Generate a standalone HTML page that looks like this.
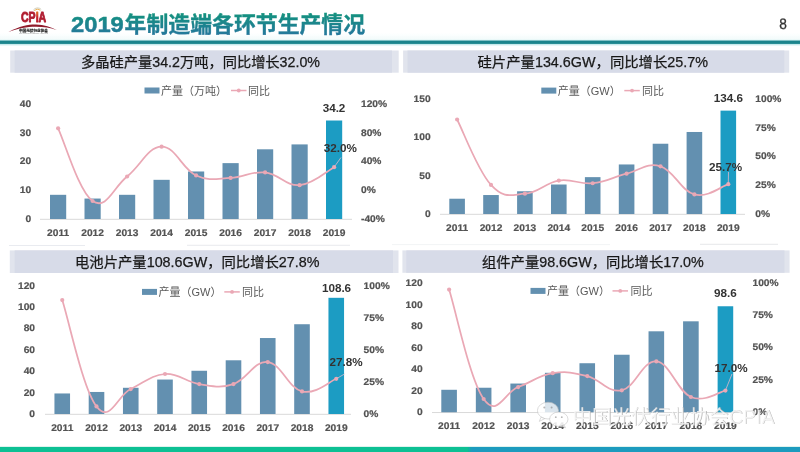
<!DOCTYPE html>
<html lang="zh-CN"><head><meta charset="utf-8"><title>2019年制造端各环节生产情况</title>
<style>html,body{margin:0;padding:0;background:#fff;}body{width:800px;height:452px;overflow:hidden;}svg{display:block;}
text{font-family:"Liberation Sans", "Noto Sans CJK SC", sans-serif;}
.ax{text-rendering:geometricPrecision;font-size:9.6px;font-weight:bold;fill:#525252;stroke:#525252;stroke-width:0.2px;}
.dl{font-size:11.7px;font-weight:bold;fill:#333;}
.lg{font-size:11px;fill:#595959;}
.tb{font-size:14px;fill:#1a1a1a;stroke:#1a1a1a;stroke-width:0.25px;}
</style></head><body>
<svg width="800" height="452" viewBox="0 0 800 452">
<defs><linearGradient id="tg" x1="0" y1="0" x2="0" y2="1"><stop offset="0.1" stop-color="#14917f"/><stop offset="0.95" stop-color="#26779d"/></linearGradient>
<linearGradient id="ig" x1="0" y1="0" x2="0" y2="1"><stop offset="0" stop-color="#f0a020"/><stop offset="0.55" stop-color="#c8202c"/><stop offset="1" stop-color="#a8192b"/></linearGradient>
<filter id="bl" x="-5%" y="-5%" width="110%" height="110%"><feGaussianBlur stdDeviation="0.45"/></filter>
<linearGradient id="hg" x1="0" y1="0" x2="0" y2="1"><stop offset="0" stop-color="#d8f3f3" stop-opacity="0"/><stop offset="1" stop-color="#d8f3f3" stop-opacity="0.35"/></linearGradient>
<linearGradient id="bg" x1="0" y1="0" x2="800" y2="0" gradientUnits="userSpaceOnUse"><stop offset="0" stop-color="#0cc094"/><stop offset="0.5845" stop-color="#0cc094"/><stop offset="0.5895" stop-color="#1c9bbe"/><stop offset="1" stop-color="#1c9bbe"/></linearGradient>
</defs>
<rect width="800" height="452" fill="#ffffff"/>
<g filter="url(#bl)">
<rect x="0" y="32.5" width="800" height="8" fill="url(#hg)"/>
<rect x="0" y="39.8" width="800" height="5.6" fill="#c9eaec"/>
<rect x="0" y="40.6" width="800" height="3.3" fill="#1b848c"/>
<g id="logo">
<path d="M8.2,32.2 C20,25.6 30,24.3 36,24.5 C44,24.8 51,26.8 57,30.2 C50,27.8 44,26.9 36,26.8 C28,26.7 18,28.2 8.2,32.2 Z" fill="#8f1a2c"/>
<text x="21" y="22.3" font-size="15" font-weight="bold" fill="#b01c30" stroke="#b01c30" stroke-width="0.9" stroke-linejoin="round" textLength="25.2" lengthAdjust="spacingAndGlyphs">CP<tspan fill="url(#ig)" stroke="url(#ig)">I</tspan>A</text>
<path d="M34.4,11 A3.6,3.6 0 0 1 40.4,10.6" fill="none" stroke="#e8a33a" stroke-width="0.9"/>
<path d="M33.4,10 A5.2,5.2 0 0 1 41.2,9.4" fill="none" stroke="#b9b9a0" stroke-width="0.7"/>
<text x="19" y="32.2" font-size="3.6" font-weight="bold" fill="#1a1a1a" stroke="#1a1a1a" stroke-width="0.15" textLength="29" lengthAdjust="spacingAndGlyphs">中国光伏行业协会</text>
<text x="19" y="34.3" font-size="1.6" fill="#888" textLength="29" lengthAdjust="spacingAndGlyphs">CHINA PHOTOVOLTAIC INDUSTRY ASSOCIATION</text>
</g>
<text x="71" y="31.7" font-size="22.8" font-weight="bold" fill="url(#tg)" stroke="url(#tg)" stroke-width="0.5" textLength="52.8" lengthAdjust="spacingAndGlyphs">2019</text>
<text x="124.6" y="31.6" font-size="22" font-weight="bold" fill="url(#tg)" stroke="url(#tg)" stroke-width="0.35" textLength="240.5" lengthAdjust="spacingAndGlyphs">年制造端各环节生产情况</text>
<text transform="translate(783.1,29) scale(0.9,1)" font-size="15.2" fill="#333" stroke="#333" stroke-width="0.3" text-anchor="middle" style="text-rendering:geometricPrecision">8</text>
<rect x="10.2" y="50.5" width="388.5" height="22.2" fill="#e1e4ed"/>
<rect x="14.6" y="50.5" width="377.4" height="22.2" fill="#d7dbe8"/>
<text x="81.00" y="66.50" class="tb" textLength="239.0" lengthAdjust="spacingAndGlyphs">多晶硅产量34.2万吨，同比增长32.0%</text>
<rect x="403.1" y="50.5" width="386.1" height="22.2" fill="#e1e4ed"/>
<rect x="407.5" y="50.5" width="376.8" height="22.2" fill="#d7dbe8"/>
<text x="477.50" y="66.50" class="tb" textLength="230.5" lengthAdjust="spacingAndGlyphs">硅片产量134.6GW，同比增长25.7%</text>
<rect x="9.8" y="250.4" width="388.7" height="22.6" fill="#e1e4ed"/>
<rect x="14.6" y="250.4" width="378.4" height="22.6" fill="#d7dbe8"/>
<text x="75.00" y="266.60" class="tb" textLength="244.5" lengthAdjust="spacingAndGlyphs">电池片产量108.6GW，同比增长27.8%</text>
<rect x="402.4" y="250.4" width="387.2" height="22.4" fill="#e1e4ed"/>
<rect x="406.3" y="250.4" width="378.2" height="22.4" fill="#d7dbe8"/>
<text x="482.00" y="266.50" class="tb" textLength="221.8" lengthAdjust="spacingAndGlyphs">组件产量98.6GW，同比增长17.0%</text>
<line x1="40.0" y1="219.30" x2="352.0" y2="219.30" stroke="#d9d9d9" stroke-width="1"/>
<rect x="50.00" y="194.81" width="16.20" height="24.19" fill="#6390b0"/>
<rect x="84.50" y="198.55" width="16.20" height="20.45" fill="#6390b0"/>
<rect x="119.00" y="194.81" width="16.20" height="24.19" fill="#6390b0"/>
<rect x="153.50" y="179.83" width="16.20" height="39.17" fill="#6390b0"/>
<rect x="188.00" y="171.48" width="16.20" height="47.52" fill="#6390b0"/>
<rect x="222.50" y="163.13" width="16.20" height="55.87" fill="#6390b0"/>
<rect x="257.00" y="149.30" width="16.20" height="69.70" fill="#6390b0"/>
<rect x="291.50" y="144.41" width="16.20" height="74.59" fill="#6390b0"/>
<rect x="326.00" y="120.50" width="16.20" height="98.50" fill="#1f9cc3"/>
<text transform="translate(31.2,222.00) scale(1.065,1)" text-anchor="end" class="ax">0</text>
<text transform="translate(31.2,193.20) scale(1.065,1)" text-anchor="end" class="ax">10</text>
<text transform="translate(31.2,164.40) scale(1.065,1)" text-anchor="end" class="ax">20</text>
<text transform="translate(31.2,135.60) scale(1.065,1)" text-anchor="end" class="ax">30</text>
<text transform="translate(31.2,106.80) scale(1.065,1)" text-anchor="end" class="ax">40</text>
<text transform="translate(361.0,222.00) scale(1.065,1)" text-anchor="start" class="ax">-40%</text>
<text transform="translate(361.0,193.20) scale(1.065,1)" text-anchor="start" class="ax">0%</text>
<text transform="translate(361.0,164.40) scale(1.065,1)" text-anchor="start" class="ax">40%</text>
<text transform="translate(361.0,135.60) scale(1.065,1)" text-anchor="start" class="ax">80%</text>
<text transform="translate(361.0,106.80) scale(1.065,1)" text-anchor="start" class="ax">120%</text>
<text transform="translate(58.10,235.90) scale(1.065,1)" text-anchor="middle" class="ax">2011</text>
<text transform="translate(92.60,235.90) scale(1.065,1)" text-anchor="middle" class="ax">2012</text>
<text transform="translate(127.10,235.90) scale(1.065,1)" text-anchor="middle" class="ax">2013</text>
<text transform="translate(161.60,235.90) scale(1.065,1)" text-anchor="middle" class="ax">2014</text>
<text transform="translate(196.10,235.90) scale(1.065,1)" text-anchor="middle" class="ax">2015</text>
<text transform="translate(230.60,235.90) scale(1.065,1)" text-anchor="middle" class="ax">2016</text>
<text transform="translate(265.10,235.90) scale(1.065,1)" text-anchor="middle" class="ax">2017</text>
<text transform="translate(299.60,235.90) scale(1.065,1)" text-anchor="middle" class="ax">2018</text>
<text transform="translate(334.10,235.90) scale(1.065,1)" text-anchor="middle" class="ax">2019</text>
<path d="M58.10,128.28 C65.00,142.82 78.80,191.35 92.60,201.00 C106.40,210.65 113.30,187.39 127.10,176.52 C140.90,165.65 147.80,146.86 161.60,146.64 C175.40,146.42 182.30,169.18 196.10,175.44 C209.90,181.70 216.80,178.56 230.60,177.96 C244.40,177.36 251.30,170.98 265.10,172.42 C278.90,173.86 285.80,186.21 299.60,185.16 C313.40,184.11 327.20,170.76 334.10,167.16" fill="none" stroke="#eaa8b5" stroke-width="1.75" stroke-linecap="round"/>
<circle cx="58.10" cy="128.28" r="2.1" fill="#eaa8b5"/>
<circle cx="92.60" cy="201.00" r="2.1" fill="#eaa8b5"/>
<circle cx="127.10" cy="176.52" r="2.1" fill="#eaa8b5"/>
<circle cx="161.60" cy="146.64" r="2.1" fill="#eaa8b5"/>
<circle cx="196.10" cy="175.44" r="2.1" fill="#eaa8b5"/>
<circle cx="230.60" cy="177.96" r="2.1" fill="#eaa8b5"/>
<circle cx="265.10" cy="172.42" r="2.1" fill="#eaa8b5"/>
<circle cx="299.60" cy="185.16" r="2.1" fill="#eaa8b5"/>
<circle cx="334.10" cy="167.16" r="2.1" fill="#eaa8b5"/>
<line x1="334.10" y1="167.16" x2="341.00" y2="157.50" stroke="#d9b9cc" stroke-width="1" opacity="0.8"/>
<text x="334.00" y="112.30" text-anchor="middle" class="dl">34.2</text>
<text x="340.30" y="152.20" text-anchor="middle" class="dl">32.0%</text>
<rect x="144.50" y="87.50" width="15" height="6" fill="#6390b0"/>
<text x="161.00" y="94.50" class="lg">产量（万吨）</text>
<line x1="231.00" y1="90.50" x2="246.50" y2="90.50" stroke="#eaa8b5" stroke-width="1.5"/>
<circle cx="238.75" cy="90.50" r="1.9" fill="#eaa8b5"/>
<text x="248.00" y="94.50" class="lg">同比</text>
<line x1="440.0" y1="214.30" x2="745.0" y2="214.30" stroke="#d9d9d9" stroke-width="1"/>
<rect x="449.30" y="198.72" width="15.60" height="15.28" fill="#6390b0"/>
<rect x="483.20" y="195.03" width="15.60" height="18.97" fill="#6390b0"/>
<rect x="517.10" y="191.27" width="15.60" height="22.73" fill="#6390b0"/>
<rect x="551.00" y="184.51" width="15.60" height="29.49" fill="#6390b0"/>
<rect x="584.90" y="177.14" width="15.60" height="36.86" fill="#6390b0"/>
<rect x="618.80" y="164.46" width="15.60" height="49.54" fill="#6390b0"/>
<rect x="652.70" y="143.73" width="15.60" height="70.27" fill="#6390b0"/>
<rect x="686.60" y="131.98" width="15.60" height="82.02" fill="#6390b0"/>
<rect x="720.50" y="110.63" width="15.60" height="103.37" fill="#1f9cc3"/>
<text transform="translate(430.6,217.00) scale(1.065,1)" text-anchor="end" class="ax">0</text>
<text transform="translate(430.6,178.60) scale(1.065,1)" text-anchor="end" class="ax">50</text>
<text transform="translate(430.6,140.20) scale(1.065,1)" text-anchor="end" class="ax">100</text>
<text transform="translate(430.6,101.80) scale(1.065,1)" text-anchor="end" class="ax">150</text>
<text transform="translate(755.3,217.00) scale(1.065,1)" text-anchor="start" class="ax">0%</text>
<text transform="translate(755.3,188.19) scale(1.065,1)" text-anchor="start" class="ax">25%</text>
<text transform="translate(755.3,159.38) scale(1.065,1)" text-anchor="start" class="ax">50%</text>
<text transform="translate(755.3,130.56) scale(1.065,1)" text-anchor="start" class="ax">75%</text>
<text transform="translate(755.3,101.75) scale(1.065,1)" text-anchor="start" class="ax">100%</text>
<text transform="translate(457.10,230.90) scale(1.065,1)" text-anchor="middle" class="ax">2011</text>
<text transform="translate(491.00,230.90) scale(1.065,1)" text-anchor="middle" class="ax">2012</text>
<text transform="translate(524.90,230.90) scale(1.065,1)" text-anchor="middle" class="ax">2013</text>
<text transform="translate(558.80,230.90) scale(1.065,1)" text-anchor="middle" class="ax">2014</text>
<text transform="translate(592.70,230.90) scale(1.065,1)" text-anchor="middle" class="ax">2015</text>
<text transform="translate(626.60,230.90) scale(1.065,1)" text-anchor="middle" class="ax">2016</text>
<text transform="translate(660.50,230.90) scale(1.065,1)" text-anchor="middle" class="ax">2017</text>
<text transform="translate(694.40,230.90) scale(1.065,1)" text-anchor="middle" class="ax">2018</text>
<text transform="translate(728.30,230.90) scale(1.065,1)" text-anchor="middle" class="ax">2019</text>
<path d="M457.10,119.49 C463.88,132.59 477.44,170.11 491.00,184.96 C504.56,199.80 511.34,194.59 524.90,193.72 C538.46,192.84 545.24,182.68 558.80,180.58 C572.36,178.48 579.14,184.61 592.70,183.23 C606.26,181.85 613.04,177.05 626.60,173.66 C640.16,170.27 646.94,162.14 660.50,166.29 C674.06,170.44 680.84,190.83 694.40,194.41 C707.96,197.98 721.52,186.20 728.30,184.15" fill="none" stroke="#eaa8b5" stroke-width="1.75" stroke-linecap="round"/>
<circle cx="457.10" cy="119.49" r="2.1" fill="#eaa8b5"/>
<circle cx="491.00" cy="184.96" r="2.1" fill="#eaa8b5"/>
<circle cx="524.90" cy="193.72" r="2.1" fill="#eaa8b5"/>
<circle cx="558.80" cy="180.58" r="2.1" fill="#eaa8b5"/>
<circle cx="592.70" cy="183.23" r="2.1" fill="#eaa8b5"/>
<circle cx="626.60" cy="173.66" r="2.1" fill="#eaa8b5"/>
<circle cx="660.50" cy="166.29" r="2.1" fill="#eaa8b5"/>
<circle cx="694.40" cy="194.41" r="2.1" fill="#eaa8b5"/>
<circle cx="728.30" cy="184.15" r="2.1" fill="#eaa8b5"/>
<line x1="728.30" y1="184.15" x2="728.50" y2="172.00" stroke="#d9b9cc" stroke-width="1" opacity="0.8"/>
<text x="728.40" y="102.40" text-anchor="middle" class="dl">134.6</text>
<text x="725.50" y="171.00" text-anchor="middle" class="dl">25.7%</text>
<rect x="541.30" y="87.60" width="15" height="6" fill="#6390b0"/>
<text x="557.80" y="94.60" class="lg">产量（GW）</text>
<line x1="624.30" y1="90.60" x2="639.80" y2="90.60" stroke="#eaa8b5" stroke-width="1.5"/>
<circle cx="632.05" cy="90.60" r="1.9" fill="#eaa8b5"/>
<text x="642.00" y="94.60" class="lg">同比</text>
<line x1="45.0" y1="414.30" x2="351.0" y2="414.30" stroke="#d9d9d9" stroke-width="1"/>
<rect x="54.45" y="393.46" width="15.60" height="20.54" fill="#6390b0"/>
<rect x="88.70" y="391.96" width="15.60" height="22.04" fill="#6390b0"/>
<rect x="122.95" y="387.79" width="15.60" height="26.21" fill="#6390b0"/>
<rect x="157.20" y="379.55" width="15.60" height="34.45" fill="#6390b0"/>
<rect x="191.45" y="370.77" width="15.60" height="43.23" fill="#6390b0"/>
<rect x="225.70" y="360.29" width="15.60" height="53.71" fill="#6390b0"/>
<rect x="259.95" y="338.03" width="15.60" height="75.97" fill="#6390b0"/>
<rect x="294.20" y="324.23" width="15.60" height="89.77" fill="#6390b0"/>
<rect x="328.45" y="297.80" width="15.60" height="116.20" fill="#1f9cc3"/>
<text transform="translate(35.0,417.00) scale(1.065,1)" text-anchor="end" class="ax">0</text>
<text transform="translate(35.0,395.60) scale(1.065,1)" text-anchor="end" class="ax">20</text>
<text transform="translate(35.0,374.20) scale(1.065,1)" text-anchor="end" class="ax">40</text>
<text transform="translate(35.0,352.80) scale(1.065,1)" text-anchor="end" class="ax">60</text>
<text transform="translate(35.0,331.40) scale(1.065,1)" text-anchor="end" class="ax">80</text>
<text transform="translate(35.0,310.00) scale(1.065,1)" text-anchor="end" class="ax">100</text>
<text transform="translate(35.0,288.60) scale(1.065,1)" text-anchor="end" class="ax">120</text>
<text transform="translate(363.6,416.80) scale(1.065,1)" text-anchor="start" class="ax">0%</text>
<text transform="translate(363.6,384.80) scale(1.065,1)" text-anchor="start" class="ax">25%</text>
<text transform="translate(363.6,352.80) scale(1.065,1)" text-anchor="start" class="ax">50%</text>
<text transform="translate(363.6,320.80) scale(1.065,1)" text-anchor="start" class="ax">75%</text>
<text transform="translate(363.6,288.80) scale(1.065,1)" text-anchor="start" class="ax">100%</text>
<text transform="translate(62.25,431.40) scale(1.065,1)" text-anchor="middle" class="ax">2011</text>
<text transform="translate(96.50,431.40) scale(1.065,1)" text-anchor="middle" class="ax">2012</text>
<text transform="translate(130.75,431.40) scale(1.065,1)" text-anchor="middle" class="ax">2013</text>
<text transform="translate(165.00,431.40) scale(1.065,1)" text-anchor="middle" class="ax">2014</text>
<text transform="translate(199.25,431.40) scale(1.065,1)" text-anchor="middle" class="ax">2015</text>
<text transform="translate(233.50,431.40) scale(1.065,1)" text-anchor="middle" class="ax">2016</text>
<text transform="translate(267.75,431.40) scale(1.065,1)" text-anchor="middle" class="ax">2017</text>
<text transform="translate(302.00,431.40) scale(1.065,1)" text-anchor="middle" class="ax">2018</text>
<text transform="translate(336.25,431.40) scale(1.065,1)" text-anchor="middle" class="ax">2019</text>
<path d="M62.25,300.08 C69.10,321.35 82.80,388.66 96.50,406.45 C110.20,424.24 117.05,395.53 130.75,389.04 C144.45,382.55 151.30,375.00 165.00,374.00 C178.70,373.00 185.55,382.04 199.25,384.05 C212.95,386.06 219.80,388.45 233.50,384.05 C247.20,379.64 254.05,360.55 267.75,362.03 C281.45,363.52 288.30,388.12 302.00,391.47 C315.70,394.83 329.40,381.33 336.25,378.80" fill="none" stroke="#eaa8b5" stroke-width="1.75" stroke-linecap="round"/>
<circle cx="62.25" cy="300.08" r="2.1" fill="#eaa8b5"/>
<circle cx="96.50" cy="406.45" r="2.1" fill="#eaa8b5"/>
<circle cx="130.75" cy="389.04" r="2.1" fill="#eaa8b5"/>
<circle cx="165.00" cy="374.00" r="2.1" fill="#eaa8b5"/>
<circle cx="199.25" cy="384.05" r="2.1" fill="#eaa8b5"/>
<circle cx="233.50" cy="384.05" r="2.1" fill="#eaa8b5"/>
<circle cx="267.75" cy="362.03" r="2.1" fill="#eaa8b5"/>
<circle cx="302.00" cy="391.47" r="2.1" fill="#eaa8b5"/>
<circle cx="336.25" cy="378.80" r="2.1" fill="#eaa8b5"/>
<line x1="336.25" y1="378.80" x2="344.50" y2="374.00" stroke="#d9b9cc" stroke-width="1" opacity="0.8"/>
<text x="336.50" y="291.80" text-anchor="middle" class="dl">108.6</text>
<text x="346.00" y="366.10" text-anchor="middle" class="dl">27.8%</text>
<rect x="142.00" y="288.90" width="15" height="6" fill="#6390b0"/>
<text x="158.50" y="295.90" class="lg">产量（GW）</text>
<line x1="224.30" y1="291.90" x2="239.80" y2="291.90" stroke="#eaa8b5" stroke-width="1.5"/>
<circle cx="232.05" cy="291.90" r="1.9" fill="#eaa8b5"/>
<text x="242.00" y="295.90" class="lg">同比</text>
<line x1="432.0" y1="412.55" x2="742.0" y2="412.55" stroke="#d9d9d9" stroke-width="1"/>
<rect x="441.30" y="389.78" width="15.60" height="22.47" fill="#6390b0"/>
<rect x="475.84" y="387.74" width="15.60" height="24.51" fill="#6390b0"/>
<rect x="510.38" y="383.55" width="15.60" height="28.70" fill="#6390b0"/>
<rect x="544.92" y="372.80" width="15.60" height="39.45" fill="#6390b0"/>
<rect x="579.46" y="363.23" width="15.60" height="49.02" fill="#6390b0"/>
<rect x="614.00" y="354.74" width="15.60" height="57.51" fill="#6390b0"/>
<rect x="648.54" y="331.30" width="15.60" height="80.95" fill="#6390b0"/>
<rect x="683.08" y="321.31" width="15.60" height="90.94" fill="#6390b0"/>
<rect x="717.62" y="306.25" width="15.60" height="105.99" fill="#1f9cc3"/>
<text transform="translate(422.6,415.05) scale(1.065,1)" text-anchor="end" class="ax">0</text>
<text transform="translate(422.6,393.55) scale(1.065,1)" text-anchor="end" class="ax">20</text>
<text transform="translate(422.6,372.05) scale(1.065,1)" text-anchor="end" class="ax">40</text>
<text transform="translate(422.6,350.55) scale(1.065,1)" text-anchor="end" class="ax">60</text>
<text transform="translate(422.6,329.05) scale(1.065,1)" text-anchor="end" class="ax">80</text>
<text transform="translate(422.6,307.55) scale(1.065,1)" text-anchor="end" class="ax">100</text>
<text transform="translate(422.6,286.05) scale(1.065,1)" text-anchor="end" class="ax">120</text>
<text transform="translate(752.5,414.85) scale(1.065,1)" text-anchor="start" class="ax">0%</text>
<text transform="translate(752.5,382.54) scale(1.065,1)" text-anchor="start" class="ax">25%</text>
<text transform="translate(752.5,350.23) scale(1.065,1)" text-anchor="start" class="ax">50%</text>
<text transform="translate(752.5,317.91) scale(1.065,1)" text-anchor="start" class="ax">75%</text>
<text transform="translate(752.5,285.60) scale(1.065,1)" text-anchor="start" class="ax">100%</text>
<text transform="translate(449.10,429.30) scale(1.065,1)" text-anchor="middle" class="ax">2011</text>
<text transform="translate(483.64,429.30) scale(1.065,1)" text-anchor="middle" class="ax">2012</text>
<text transform="translate(518.18,429.30) scale(1.065,1)" text-anchor="middle" class="ax">2013</text>
<text transform="translate(552.72,429.30) scale(1.065,1)" text-anchor="middle" class="ax">2014</text>
<text transform="translate(587.26,429.30) scale(1.065,1)" text-anchor="middle" class="ax">2015</text>
<text transform="translate(621.80,429.30) scale(1.065,1)" text-anchor="middle" class="ax">2016</text>
<text transform="translate(656.34,429.30) scale(1.065,1)" text-anchor="middle" class="ax">2017</text>
<text transform="translate(690.88,429.30) scale(1.065,1)" text-anchor="middle" class="ax">2018</text>
<text transform="translate(725.42,429.30) scale(1.065,1)" text-anchor="middle" class="ax">2019</text>
<path d="M449.10,289.59 C456.01,311.47 469.82,379.51 483.64,399.00 C497.46,418.49 504.36,392.20 518.18,387.05 C532.00,381.89 538.90,375.41 552.72,373.22 C566.54,371.02 573.44,372.65 587.26,376.06 C601.08,379.47 607.98,393.20 621.80,390.28 C635.62,387.36 642.52,360.11 656.34,361.45 C670.16,362.80 677.06,391.18 690.88,397.00 C704.70,402.81 718.51,391.83 725.42,390.54" fill="none" stroke="#eaa8b5" stroke-width="1.75" stroke-linecap="round"/>
<circle cx="449.10" cy="289.59" r="2.1" fill="#eaa8b5"/>
<circle cx="483.64" cy="399.00" r="2.1" fill="#eaa8b5"/>
<circle cx="518.18" cy="387.05" r="2.1" fill="#eaa8b5"/>
<circle cx="552.72" cy="373.22" r="2.1" fill="#eaa8b5"/>
<circle cx="587.26" cy="376.06" r="2.1" fill="#eaa8b5"/>
<circle cx="621.80" cy="390.28" r="2.1" fill="#eaa8b5"/>
<circle cx="656.34" cy="361.45" r="2.1" fill="#eaa8b5"/>
<circle cx="690.88" cy="397.00" r="2.1" fill="#eaa8b5"/>
<circle cx="725.42" cy="390.54" r="2.1" fill="#eaa8b5"/>
<line x1="725.42" y1="390.54" x2="732.00" y2="374.00" stroke="#d9b9cc" stroke-width="1" opacity="0.8"/>
<text x="725.40" y="297.30" text-anchor="middle" class="dl">98.6</text>
<text x="731.00" y="371.70" text-anchor="middle" class="dl">17.0%</text>
<rect x="530.50" y="287.90" width="15" height="6" fill="#6390b0"/>
<text x="547.00" y="294.90" class="lg">产量（GW）</text>
<line x1="612.50" y1="290.90" x2="628.00" y2="290.90" stroke="#eaa8b5" stroke-width="1.5"/>
<circle cx="620.25" cy="290.90" r="1.9" fill="#eaa8b5"/>
<text x="630.50" y="294.90" class="lg">同比</text>
<g stroke-width="0.8" fill="none"><path d="M9,245.5 H85" stroke="#e3e6ec"/><path d="M187,245.3 H350" stroke="#e3e5ea"/><path d="M392,244.6 H610" stroke="#eef0f3"/><path d="M700,244.3 H778" stroke="#dfe1e5"/></g>
<g opacity="0.9">
<g fill="#ffffff" fill-opacity="0.85" stroke="#bdbdbd" stroke-width="0.6">
<ellipse cx="548" cy="410.6" rx="10.6" ry="8.4"/>
<path d="M541,417.2 L539.3,421.4 L544.8,418.6 Z"/>
<ellipse cx="558.8" cy="419.2" rx="9.2" ry="7.2" fill-opacity="0.96"/>
<path d="M564,425 L565.6,427.8 L561,426 Z"/>
</g>
<g fill="#b0b0b0"><circle cx="544.3" cy="407.6" r="1"/><circle cx="551.6" cy="407.6" r="1"/><circle cx="555.8" cy="417.2" r="0.9"/><circle cx="561.8" cy="417.2" r="0.9"/></g>
<text x="573.1" y="424.1" font-size="19.5" fill="#a9a9a9" textLength="202" lengthAdjust="spacingAndGlyphs">中国光伏行业协会CPIA</text>
<text x="572.5" y="423.5" font-size="19.5" fill="#ffffff" fill-opacity="0.85" textLength="202" lengthAdjust="spacingAndGlyphs">中国光伏行业协会CPIA</text>
</g>
<rect x="0" y="446.2" width="800" height="1.2" fill="#d8f1ea"/>
<rect x="0" y="447" width="800" height="5.5" fill="url(#bg)"/>
</g>
</svg></body></html>
